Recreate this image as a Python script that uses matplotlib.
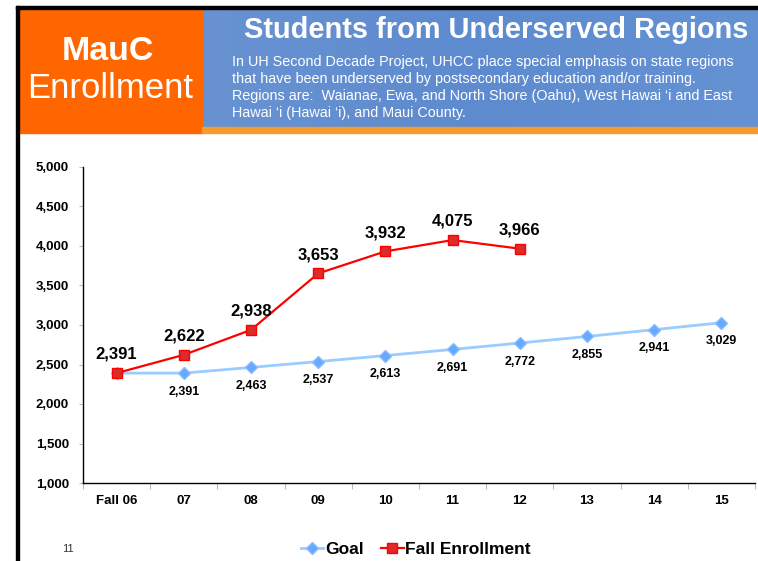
import matplotlib.pyplot as plt
import matplotlib.patches as patches
import numpy as np
from matplotlib.lines import Line2D
from matplotlib.colors import LinearSegmentedColormap

plt.rcParams['font.family'] = ['Liberation Sans', 'DejaVu Sans']

categories = ['Fall 06', '07', '08', '09', '10', '11', '12', '13', '14', '15']
goal = [2391, 2391, 2463, 2537, 2613, 2691, 2772, 2855, 2941, 3029]
fall_enrollment = [2391, 2622, 2938, 3653, 3932, 4075, 3966]
yticks = [1000, 1500, 2000, 2500, 3000, 3500, 4000, 4500, 5000]

W, H = 758, 561
fig = plt.figure(figsize=(W / 100, H / 100), dpi=100)


def fx(px):
    return px / W


def fy(py):
    return 1 - py / H


# header: black border, orange box, blue gradient box, orange strip
fig.patches.append(patches.Rectangle((fx(16), 0), fx(2.5), fy(6),
                                     transform=fig.transFigure, color='black', zorder=5))
fig.patches.append(patches.Rectangle((fx(16), fy(9)), fx(742), fy(6) - fy(9),
                                     transform=fig.transFigure, color='black', zorder=5))
fig.patches.append(patches.Rectangle((fx(18), fy(133)), fx(184), fy(9) - fy(133),
                                     transform=fig.transFigure, color='#ff6600', zorder=1))
fig.patches.append(patches.Rectangle((fx(202), fy(133)), fx(556), fy(127) - fy(133),
                                     transform=fig.transFigure, color='#f79a2e', zorder=1))

bax = fig.add_axes([fx(202), fy(127), fx(556), fy(9) - fy(127)])
grad = np.linspace(0, 1, 256).reshape(1, -1)
cmap = LinearSegmentedColormap.from_list('hdr', ['#6892d2', '#5e8bcf', '#6592d3'])
bax.imshow(grad, aspect='auto', cmap=cmap, extent=[0, 1, 0, 1])
bax.axis('off')

fig.text(fx(108), fy(51), 'MauC', color='white', fontsize=24.5, fontweight='bold',
         ha='center', va='center')
fig.text(fx(110), fy(88), 'Enrollment', color='white', fontsize=25,
         ha='center', va='center')
fig.text(fx(496), fy(30), 'Students from Underserved Regions', color='white',
         fontsize=20.9, fontweight='bold', ha='center', va='center')
sub = ['In UH Second Decade Project, UHCC place special emphasis on state regions',
       'that have been underserved by postsecondary education and/or training.',
       'Regions are:  Waianae, Ewa, and North Shore (Oahu), West Hawai \u2018i and East',
       'Hawai \u2018i (Hawai \u2018i), and Maui County.']
for i, line in enumerate(sub):
    fig.text(fx(232), fy(62 + 17 * i), line, color='white', fontsize=10.4,
             ha='left', va='center')

# chart
ax = fig.add_axes([fx(83), fy(483), fx(672), fy(167) - fy(483)])
x = np.arange(len(categories))
ax.plot(x, goal, color='#99ccff', lw=2, marker='D', ms=6,
        mfc='#66aaff', mec='#88bbff', zorder=2)
ax.plot(x[:len(fall_enrollment)], fall_enrollment, color='#ff0000', lw=1.6,
        marker='s', ms=7.5, mfc='#dd2a2a', mec='#ff0000', zorder=3)

for i, v in enumerate(goal):
    if i == 0:
        continue
    ax.annotate(f'{v:,}', (x[i], v), xytext=(0, -9), textcoords='offset points',
                ha='center', va='top', fontsize=9, fontweight='bold')
for i, v in enumerate(fall_enrollment):
    ax.annotate(f'{v:,}', (x[i], v), xytext=(0, 8), textcoords='offset points',
                ha='center', va='bottom', fontsize=12, fontweight='bold')

ax.set_xlim(-0.5, len(categories) - 0.5)
ax.set_ylim(1000, 5000)
ax.set_yticks(yticks)
ax.set_yticklabels([f'{t:,}' for t in yticks], fontsize=9.5, fontweight='bold')
ax.set_xticks(np.arange(len(categories) + 1) - 0.5)
ax.set_xticklabels([])
ax.set_xticks(x, minor=True)
ax.set_xticklabels(categories, minor=True, fontsize=9.5, fontweight='bold')
ax.tick_params(axis='x', which='minor', length=0, pad=9)
ax.tick_params(axis='x', which='major', length=4, color='#bbbbbb', direction='out')
ax.tick_params(axis='y', length=3, color='#bbbbbb', pad=7)
for s in ['top', 'right']:
    ax.spines[s].set_visible(False)
ax.spines['left'].set_linewidth(1)
ax.spines['bottom'].set_linewidth(1)

handles = [Line2D([], [], color='#99ccff', lw=2, marker='D', ms=6,
                  mfc='#66aaff', mec='#88bbff'),
           Line2D([], [], color='#ff0000', lw=1.6, marker='s', ms=7.5,
                  mfc='#dd2a2a', mec='#ff0000')]
leg = fig.legend(handles, ['Goal', 'Fall Enrollment'], loc='center',
                 bbox_to_anchor=(fx(416), fy(549)), ncol=2, frameon=False,
                 handlelength=1.3, handletextpad=0.1, columnspacing=1.0,
                 prop={'size': 12.5, 'weight': 'bold'})

fig.text(fx(68), fy(549), '11', fontsize=8, color='#333333', ha='center', va='center')

fig.savefig('out.png', dpi=100)
